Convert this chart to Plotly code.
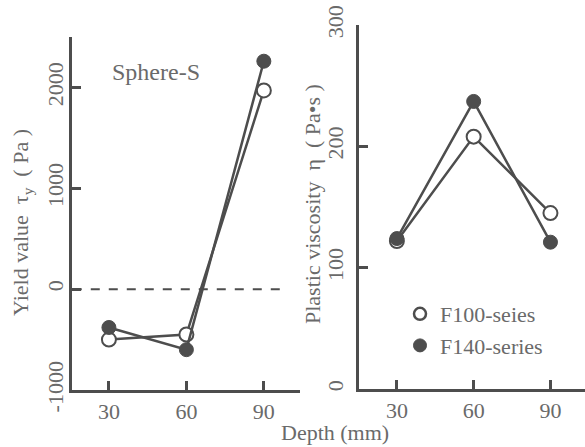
import plotly.graph_objects as go

depth = [30, 60, 90]
yield_f100 = [-500, -450, 1970]
yield_f140 = [-380, -600, 2260]
visc_f100 = [122, 208, 145]
visc_f140 = [124, 237, 121]
series_names = ["F100-seies", "F140-series"]
yield_ticks = [-1000, 0, 1000, 2000]
yield_ticktext = ["-1000", "0", "1000", "2000"]
visc_ticks = [0, 100, 200, 300]
depth_ticks = [30, 60, 90]

W, H = 585, 447
LINE = "#4d4d4d"
TXT = "#6a6a6a"
FONT = "Liberation Serif"

def px(x):
    return x / W

def py(y):
    return 1 - y / H

fig = go.Figure()

open_m = dict(symbol="circle", size=14, color="white", line=dict(color=LINE, width=2))
fill_m = dict(symbol="circle", size=14, color=LINE, line=dict(color=LINE, width=1))

# left panel
fig.add_trace(go.Scatter(x=depth, y=yield_f100, mode="lines+markers", xaxis="x", yaxis="y",
                         line=dict(color=LINE, width=2.5), marker=open_m, showlegend=False))
fig.add_trace(go.Scatter(x=depth, y=yield_f140, mode="lines+markers", xaxis="x", yaxis="y",
                         line=dict(color=LINE, width=2.5), marker=fill_m, showlegend=False))
# right panel
fig.add_trace(go.Scatter(x=depth, y=visc_f100, mode="lines+markers", xaxis="x2", yaxis="y2",
                         line=dict(color=LINE, width=2.5), marker=open_m, showlegend=False))
fig.add_trace(go.Scatter(x=depth, y=visc_f140, mode="lines+markers", xaxis="x2", yaxis="y2",
                         line=dict(color=LINE, width=2.5), marker=fill_m, showlegend=False))
# legend entries
fig.add_trace(go.Scatter(x=[None], y=[None], mode="markers", xaxis="x2", yaxis="y2", name=series_names[0],
                         marker=dict(symbol="circle", size=12, color="white", line=dict(color=LINE, width=2.5))))
fig.add_trace(go.Scatter(x=[None], y=[None], mode="markers", xaxis="x2", yaxis="y2", name=series_names[1],
                         marker=dict(symbol="circle", size=13, color=LINE, line=dict(color=LINE, width=1))))

# dashed zero line
fig.add_shape(type="line", xref="x", yref="y", x0=16, x1=98, y0=0, y1=0,
              line=dict(color=LINE, width=2, dash="dash"))

axis_common = dict(showline=True, linecolor=LINE, linewidth=3, ticks="inside", ticklen=9,
                   tickwidth=3, tickcolor=LINE, showgrid=False, zeroline=False, automargin=False,
                   tickfont=dict(family=FONT, size=22, color=TXT))
label_axis = dict(showline=False, ticks="", showgrid=False, zeroline=False, automargin=False,
                  tickangle=-90, anchor="free", tickfont=dict(family=FONT, size=22, color=TXT))

fig.update_layout(
    width=W, height=H,
    margin=dict(l=0, r=0, t=0, b=0),
    paper_bgcolor="white", plot_bgcolor="white",
    font=dict(family=FONT, color=TXT),
    xaxis=dict(domain=[px(72), px(300)], range=[15.7, 104], tickvals=depth_ticks,
               anchor="y", **axis_common),
    yaxis=dict(domain=[py(390), py(37)], range=[-1000, 2500], tickvals=yield_ticks,
               showticklabels=False, anchor="x", **axis_common),
    yaxis3=dict(domain=[py(390), py(37)], range=[-1000, 2500], tickvals=yield_ticks,
                ticktext=yield_ticktext, overlaying="y", position=px(67), **label_axis),
    xaxis2=dict(domain=[px(359), 1.0], range=[15.2, 103.5], tickvals=depth_ticks,
                anchor="y2", **axis_common),
    yaxis2=dict(domain=[py(389), py(25)], range=[0, 300], tickvals=visc_ticks,
                showticklabels=False, anchor="x2", **axis_common),
    yaxis4=dict(domain=[py(389), py(25)], range=[0, 300], tickvals=visc_ticks,
                overlaying="y2", position=px(347), **label_axis),
    showlegend=True,
    legend=dict(x=px(400), y=py(293), xanchor="left", yanchor="top",
                font=dict(family=FONT, size=22, color=TXT), bgcolor="rgba(0,0,0,0)",
                itemwidth=30, tracegroupgap=0),
    annotations=[
        dict(text="Sphere-S", x=px(156), y=py(72), xref="paper", yref="paper", showarrow=False,
             xanchor="center", yanchor="middle", font=dict(family=FONT, size=24, color=TXT)),
        dict(text="Yield value  τ<sub>y</sub>  ( Pa )", x=px(22), y=py(223), xref="paper", yref="paper",
             xanchor="center", yanchor="middle",
             showarrow=False, textangle=-90, font=dict(family=FONT, size=22, color=TXT)),
        dict(text="Plastic viscosity  η  ( Pa•s )", x=px(312), y=py(204), xref="paper", yref="paper",
             xanchor="center", yanchor="middle",
             showarrow=False, textangle=-90, font=dict(family=FONT, size=22, color=TXT)),
        dict(text="Depth (mm)", x=px(335), y=py(432), xref="paper", yref="paper", showarrow=False,
             xanchor="center", yanchor="middle", font=dict(family=FONT, size=22, color=TXT)),
    ],
)

# invisible carrier traces so the label-only axes are drawn
fig.add_trace(go.Scatter(x=[None], y=[None], xaxis="x", yaxis="y3", showlegend=False, hoverinfo="skip"))
fig.add_trace(go.Scatter(x=[None], y=[None], xaxis="x2", yaxis="y4", showlegend=False, hoverinfo="skip"))

fig.write_html("out.html")
